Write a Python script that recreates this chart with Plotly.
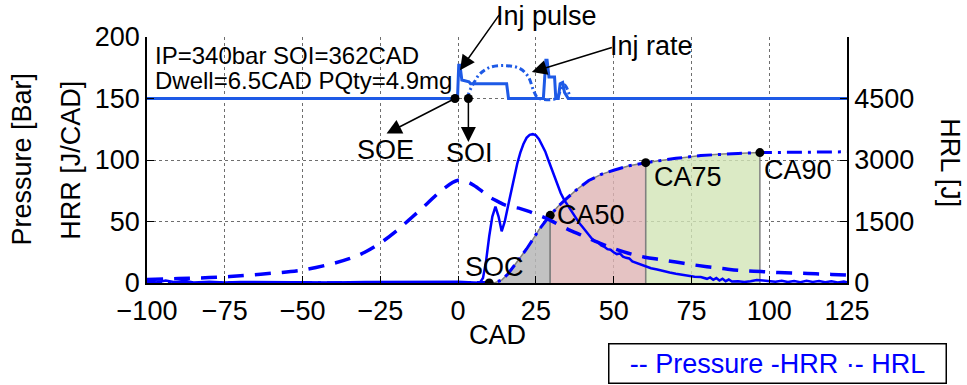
import numpy as np
import plotly.graph_objects as go

# ---------------- data ----------------
cad_ticks = [-100, -75, -50, -25, 0, 25, 50, 75, 100, 125]
left_ticks = [0, 50, 100, 150, 200]
right_ticks = [0, 1500, 3000, 4500, 6000]
right_ticktext = ["0", "1500", "3000", "4500", ""]

# Pressure [bar]
p_x = [-100, -90, -80, -75, -70, -60, -50, -40, -35, -30, -25, -20, -15, -10, -5, 0,
       3, 5, 8, 10, 13, 15, 18, 20, 23, 25, 28, 30, 35, 40, 45, 50, 55, 60, 65, 70,
       75, 80, 85, 90, 95, 100, 105, 110, 115, 120, 125]
p_y = [2.8, 3.6, 4.4, 5.0, 5.9, 7.9, 10.5, 16.0, 19.8, 25.0, 32.5, 42.0, 53.0, 64.5, 76.0, 83.5,
       82.0, 79.5, 74.0, 70.0, 66.0, 63.5, 61.5, 60.5, 58.0, 56.0, 53.0, 50.5, 44.0, 38.5, 33.0,
       28.0, 24.0, 21.0, 19.0, 17.0, 15.0, 13.3, 11.8, 10.3, 9.6, 8.9, 8.3, 7.9, 7.5, 7.0, 6.4]

# Heat release rate [J/CAD]
hrr_x = [-100, -97, -94, -91, -88, -85, -80, -75, -70, -60, -50, -40, -30, -20, -10, -5, 0, 5, 7,
         8, 9, 10, 11, 12, 13, 14, 15, 16, 17, 18, 19, 20, 21, 22, 23, 24, 25, 26, 27, 28, 29,
         30, 31, 32, 33, 34, 35, 36, 37, 38, 39, 40, 41, 42, 43, 44, 45, 46, 47, 48, 49, 50,
         51, 52, 53, 54, 55, 56, 57, 58, 59, 60, 62, 64, 66, 68, 70, 72, 74, 76, 78, 80,
         81, 82, 83, 84, 85, 86, 87, 88, 90, 92, 94, 96, 98, 100, 102, 104, 106, 108, 110,
         112, 114, 116, 118, 120, 122, 124, 125]
hrr_y = [1.5, 0.5, 2.0, 0.6, 1.8, 0.4, 1.0, 0.5, 0.8, 0.6, 0.7, 0.5, 0.9, 1.0, 1.5, 1.2, 1.0, 0.5, 0.3,
         4, 18, 38, 54, 62, 54, 42, 50, 62, 74, 86, 97, 106, 113, 118, 120.5, 121, 120, 117, 112, 107, 100,
         93, 86, 79, 73, 68, 64, 60, 56, 52, 48.5, 45.5, 42, 39, 36, 34, 33, 30.5, 29.5, 27.5, 27, 25,
         23.5, 24, 21.5, 20.5, 20, 17.5, 16.5, 16, 15, 14, 12, 11, 9.5, 8.5, 7.5, 6.5, 6, 5, 4.8, 3.4,
         4.5, 2.6, 4, 2, 3.5, 1.5, 2.8, 1.2, 1.5, 0.8, 1.5, 2.5, 2, 1.5, 1.0, 1.8, 0.8, 1.6, 0.7,
         1.8, 0.9, 1.7, 0.6, 1.5, 0.5, 1.2, 0.5]

# Cumulative heat release [J]
hrl_x = [-100, 10, 12, 14, 16, 18, 20, 22, 24, 26, 28, 29.6, 32, 35, 38, 42, 46, 50, 55, 60.3,
         65, 70, 78, 85, 90, 97, 105, 115, 125]
hrl_y = [0, 0, 15, 70, 220, 420, 620, 830, 1060, 1300, 1500, 1650, 1860, 2070, 2270, 2500, 2650,
         2750, 2860, 2935, 2990, 3040, 3110, 3145, 3160, 3180, 3190, 3195, 3200]

# Injector pulse and injection rate (plotted on the 150 bar baseline)
pulse_x = [-100, -0.2, 0.2, 0.6, 1.2, 3.5, 4.0, 15.6, 16.2, 27.4, 28.2, 28.6, 29.2, 31.0, 31.4,
           32.2, 32.8, 33.6, 34.2, 34.8, 35.4, 125]
pulse_y = [150, 150, 177, 177, 165, 163.5, 162, 162, 150, 150, 181, 181, 167.5, 167.5, 150,
           150, 162, 163, 155, 152, 150, 150]
rate_x = [3.3, 3.4, 4.9, 7.0, 10.3, 15.6, 19.9, 22.6, 24.2, 25.3, 26.0, 31.5, 33.0, 34.2, 35.2, 36.0]
rate_y = [150, 154, 162, 170, 175.4, 176.7, 174.3, 167.5, 156.7, 151.2, 150, 150, 157, 161, 157, 150]

# Event markers
soe_cad, soi_cad, base_p = -1.0, 3.3, 150
ca_names = ["SOC", "CA50", "CA75", "CA90"]
ca_cad = [10.0, 29.6, 60.3, 97.0]
fill_colors = ["rgba(183,183,183,0.85)", "rgba(223,180,180,0.8)", "rgba(210,229,182,0.8)"]

# ---------------- figure ----------------
FONT = "Liberation Sans, Arial, Helvetica, sans-serif"
BLUE = "#0000FF"
INJ = "#1E5AE6"

fig = go.Figure()

# fills under HRL between SOC-CA50-CA75-CA90 (right axis)
for i in range(3):
    a, b = ca_cad[i], ca_cad[i + 1]
    xs = [a] + [x for x in hrl_x if a < x < b] + [b]
    ys = list(np.interp(xs, hrl_x, hrl_y))
    fig.add_trace(go.Scatter(x=[a] + xs + [b], y=[0] + ys + [0], yaxis="y2",
                             fill="toself", fillcolor=fill_colors[i], mode="lines",
                             line=dict(color="rgb(128,128,128)", width=1.5),
                             hoverinfo="skip", showlegend=False))

# HRL dash-dot (right axis)
fig.add_trace(go.Scatter(x=hrl_x, y=hrl_y, yaxis="y2", mode="lines",
                         line=dict(color=BLUE, width=3, dash="15px,6px,3px,6px"),
                         name="HRL", showlegend=False))
ca_y = list(np.interp(ca_cad, hrl_x, hrl_y))
fig.add_trace(go.Scatter(x=ca_cad, y=ca_y, yaxis="y2", mode="markers",
                         marker=dict(color="black", size=9), showlegend=False))

# pressure, HRR, injection traces (left scale, drawn above fills)
fig.add_trace(go.Scatter(x=p_x, y=p_y, yaxis="y3", mode="lines", line_shape="spline",
                         line=dict(color=BLUE, width=3.5, dash="16px,11px"),
                         name="Pressure", showlegend=False))
fig.add_trace(go.Scatter(x=hrr_x, y=hrr_y, yaxis="y3", mode="lines",
                         line=dict(color=BLUE, width=2.5), name="HRR", showlegend=False))
fig.add_trace(go.Scatter(x=pulse_x, y=pulse_y, yaxis="y3", mode="lines",
                         line=dict(color=INJ, width=3), showlegend=False))
fig.add_trace(go.Scatter(x=rate_x, y=rate_y, yaxis="y3", mode="lines", line_shape="spline",
                         line=dict(color=INJ, width=3, dash="6px,3px,2px,3px"), showlegend=False))
fig.add_trace(go.Scatter(x=[soe_cad, soi_cad], y=[base_p, base_p], yaxis="y3", mode="markers",
                         marker=dict(color="black", size=9), showlegend=False))

axis_font = dict(family=FONT, size=27, color="black")

fig.update_layout(
    width=967, height=385,
    margin=dict(l=147, r=120, t=37, b=102, pad=0),
    paper_bgcolor="white", plot_bgcolor="white",
    showlegend=False,
    font=dict(family=FONT, size=27, color="black"),
    xaxis=dict(range=[-100, 125], tickvals=cad_ticks, ticks="inside", ticklen=7,
               tickcolor="black", showline=True, linecolor="black", linewidth=1.5,
               showgrid=True, gridcolor="rgb(110,110,110)", griddash="dot", gridwidth=1,
               zeroline=False, tickfont=axis_font, ticklabelstandoff=3),
    yaxis=dict(range=[0, 200], tickvals=left_ticks, ticks="inside", ticklen=7,
               tickcolor="black", showline=True, linecolor="black", linewidth=1.5,
               showgrid=True, gridcolor="rgb(110,110,110)", griddash="dot", gridwidth=1,
               zeroline=False, tickfont=axis_font),
    yaxis2=dict(range=[0, 6000], tickvals=right_ticks, ticktext=right_ticktext,
                overlaying="y", side="right", ticks="inside", ticklen=7, tickcolor="black",
                showline=True, linecolor="black", linewidth=1.5, showgrid=False,
                zeroline=False, tickfont=axis_font),
    yaxis3=dict(range=[0, 200], overlaying="y", visible=False),
)

ann = []
def txt(x, y, s, size=27, xanchor="center", xref="x", yref="y", angle=0, color="black"):
    ann.append(dict(x=x, y=y, xref=xref, yref=yref, text=s, showarrow=False,
                    xanchor=xanchor, yanchor="middle", textangle=angle,
                    font=dict(family=FONT, size=size, color=color)))

def arrow(x0, y0, x1, y1):
    ann.append(dict(x=x1, y=y1, ax=x0, ay=y0, xref="x", yref="y", axref="x", ayref="y",
                    text="", showarrow=True, arrowhead=2, arrowsize=2.0, arrowwidth=1.5,
                    arrowcolor="black", standoff=0, startstandoff=0))

# axis titles
txt(-0.179, 0.505, "Pressure [Bar]", xref="paper", yref="paper", angle=-90)
txt(-0.109, 0.50, "HRR [J/CAD]", xref="paper", yref="paper", angle=-90)
txt(1.146, 0.49, "HRL [J]", xref="paper", yref="paper", angle=90)
txt(12.5, -0.213, "CAD", yref="paper")

# info text
txt(-98.1, 184.6, "IP=340bar SOI=362CAD", size=24, xanchor="left")
txt(-98.1, 164.5, "Dwell=6.5CAD PQty=4.9mg", size=24, xanchor="left")

# event labels & arrows
arrow(13.5, 219, 0.6, 173)
txt(28.4, 1.084, "Inj pulse", yref="paper")
arrow(49.9, 191.9, 23.7, 171.5)
txt(62.0, 193, "Inj rate")
arrow(soe_cad, base_p, -23, 121.5)
txt(-23.5, 108.3, "SOE")
arrow(soi_cad, base_p, soi_cad, 114.6)
txt(3.5, 105.4, "SOI")
txt(11.6, 13, "SOC")
txt(31.2, 55, "CA50", xanchor="left")
txt(62.3, 86.2, "CA75", xanchor="left")
txt(97.7, 91.6, "CA90", xanchor="left")

# legend box
ann.append(dict(x=0.9013, y=-0.3276, xref="paper", yref="paper", showarrow=False,
                text="-- Pressure -HRR \u00b7- HRL", width=336, height=38,
                bordercolor="black", borderwidth=1.5, borderpad=0, bgcolor="white",
                xanchor="center", yanchor="middle",
                font=dict(family=FONT, size=27, color=BLUE)))

fig.update_layout(annotations=ann)
fig.write_html("out.html")
